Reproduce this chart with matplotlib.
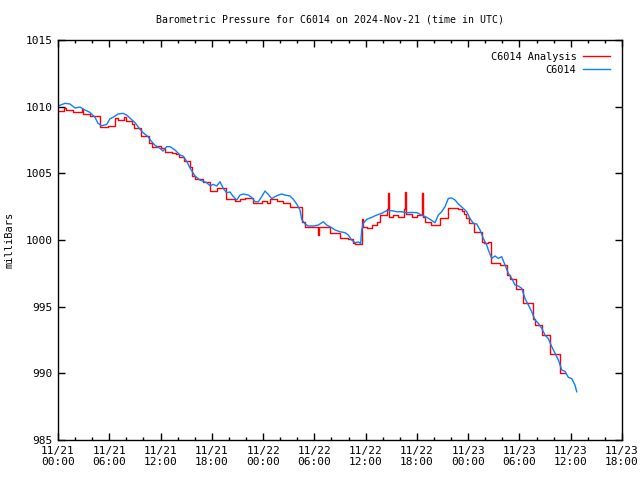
import numpy as np
import matplotlib
matplotlib.use("Agg")
import matplotlib.pyplot as plt
from matplotlib import ticker

# ======== data: hours since 2024-11-21 00:00 UTC, pressure in mb ========#
obs_hr = [0.00, 0.82, 1.40, 1.99, 2.57, 3.16, 3.74, 4.33, 4.68, 5.11,
          5.70, 6.09, 6.44, 7.02, 7.61, 8.04, 8.54, 9.01, 9.60, 9.95,
          10.53, 10.97, 11.35, 11.94, 12.29, 12.72, 13.11, 13.69, 14.28, 14.63,
          15.06, 15.45, 16.03, 16.62, 17.40, 17.79, 18.18, 18.57, 18.96, 19.35,
          19.74, 20.13, 20.52, 20.91, 21.30, 21.69, 22.27, 22.66, 23.05, 23.44,
          23.83, 24.22, 24.61, 25.01, 25.39, 25.78, 26.18, 26.57, 27.15, 27.54,
          27.93, 28.32, 28.52, 28.91, 29.29, 29.88, 30.46, 31.05, 31.44, 31.83,
          32.42, 33.00, 33.59, 33.97, 34.37, 34.76, 35.14, 35.42, 35.54, 35.73,
          36.13, 36.71, 37.30, 37.88, 38.47, 39.05, 39.64, 40.22, 40.81, 41.39,
          41.98, 42.56, 43.15, 43.53, 44.12, 44.50, 44.90, 45.29, 45.68, 46.07,
          46.46, 46.85, 47.43, 47.83, 48.21, 48.60, 49.00, 49.39, 49.77, 50.17,
          50.36, 50.75, 51.14, 51.53, 51.92, 52.31, 52.70, 53.10, 53.48, 53.87,
          54.27, 54.65, 55.04, 55.44, 55.82, 56.21, 56.61, 56.99, 57.38, 57.78,
          58.16, 58.55, 58.95, 59.33, 59.72, 60.12, 60.50, 60.70]
obs_mb = [1010.05, 1010.25, 1010.2, 1009.9, 1009.97, 1009.75, 1009.57, 1009.2, 1008.75, 1008.57,
          1008.67, 1009.1, 1009.2, 1009.45, 1009.5, 1009.37, 1009.07, 1008.8, 1008.3, 1008.05,
          1007.75, 1007.37, 1007.1, 1006.87, 1006.67, 1007.0, 1007.0, 1006.75, 1006.37, 1006.3,
          1005.9, 1005.4, 1004.8, 1004.5, 1004.3, 1004.07, 1004.17, 1004.05, 1004.37, 1003.85,
          1003.55, 1003.6, 1003.25, 1003.0, 1003.37, 1003.45, 1003.37, 1003.2, 1002.87, 1002.87,
          1003.25, 1003.67, 1003.42, 1003.1, 1003.25, 1003.37, 1003.45, 1003.37, 1003.3, 1003.05,
          1002.7, 1002.25, 1001.55, 1001.2, 1001.05, 1001.05, 1001.12, 1001.37, 1001.12, 1001.0,
          1000.75, 1000.62, 1000.55, 1000.37, 1000.0, 999.8, 999.85, 999.75, 1000.75, 1001.25,
          1001.55, 1001.7, 1001.87, 1002.0, 1002.2, 1002.2, 1002.12, 1002.12, 1002.05, 1002.07,
          1002.05, 1001.87, 1001.7, 1001.55, 1001.3, 1001.87, 1002.12, 1002.5, 1003.12, 1003.15,
          1003.0, 1002.7, 1002.37, 1002.12, 1001.62, 1001.25, 1001.2, 1000.75, 1000.12, 999.62,
          999.25, 998.62, 998.8, 998.62, 998.75, 998.12, 997.5, 997.12, 996.62, 996.55,
          996.37, 995.62, 995.12, 994.62, 994.0, 993.75, 993.37, 992.87, 992.6, 992.0,
          991.5, 991.0, 990.25, 990.15, 989.7, 989.6, 989.12, 988.62]

ana_hr = [0.00, 0.76, 0.94, 1.76, 2.81, 2.98, 3.74, 4.92, 5.85, 6.67,
          7.02, 7.78, 7.96, 8.66, 8.95, 9.71, 10.65, 11.00, 11.59, 12.05,
          12.52, 13.34, 13.81, 14.16, 14.75, 15.45, 15.68, 16.03, 16.97, 17.79,
          18.57, 19.66, 20.71, 21.30, 21.88, 22.86, 23.84, 24.42, 24.81, 25.59,
          26.37, 27.15, 27.74, 28.52, 28.91, 29.49, 30.43, 30.54, 31.83, 33.00,
          33.97, 34.49, 34.76, 35.54, 35.66, 36.13, 36.71, 37.30, 37.68, 38.47,
          38.65, 38.73, 39.24, 39.82, 40.49, 40.57, 40.73, 41.39, 42.05, 42.56,
          42.68, 42.95, 43.65, 44.70, 45.68, 46.85, 47.24, 47.51, 47.75, 48.10,
          48.68, 49.58, 49.85, 50.36, 50.64, 51.73, 52.51, 52.90, 53.60, 54.45,
          55.55, 55.82, 56.61, 57.58, 58.75, 59.33]
ana_mb = [1009.65, 1009.9, 1009.75, 1009.62, 1009.8, 1009.45, 1009.3, 1008.45, 1008.55, 1009.15,
          1009.0, 1009.25, 1008.95, 1008.7, 1008.43, 1007.8, 1007.3, 1007.0, 1007.05, 1006.9,
          1006.6, 1006.55, 1006.45, 1006.2, 1005.9, 1005.5, 1004.8, 1004.55, 1004.35, 1003.7,
          1003.87, 1003.1, 1002.95, 1003.05, 1003.17, 1002.75, 1002.95, 1002.75, 1003.1, 1002.95,
          1002.75, 1002.5, 1002.45, 1001.37, 1001.0, 1000.95, 1000.4, 1000.95, 1000.55, 1000.12,
          1000.05, 999.75, 999.67, 1001.6, 1001.0, 1000.87, 1001.12, 1001.37, 1001.87, 1002.3,
          1003.5, 1001.7, 1001.87, 1001.7, 1002.3, 1003.63, 1001.92, 1001.7, 1001.87, 1003.55,
          1001.75, 1001.37, 1001.12, 1001.67, 1002.42, 1002.3, 1002.2, 1001.95, 1001.62, 1001.3,
          1000.62, 999.87, 999.8, 999.87, 998.25, 998.12, 997.37, 997.05, 996.3, 995.25,
          994.05, 993.62, 992.87, 991.45, 990.05, 990.05]

xtick_hr = [0, 6, 12, 18, 24, 30, 36, 42, 48, 54, 60, 66]
xtick_lab = ["11/21\n00:00", "11/21\n06:00", "11/21\n12:00", "11/21\n18:00",
             "11/22\n00:00", "11/22\n06:00", "11/22\n12:00", "11/22\n18:00",
             "11/23\n00:00", "11/23\n06:00", "11/23\n12:00", "11/23\n18:00"]
ytick_mb = [985, 990, 995, 1000, 1005, 1010, 1015]

# ======== plot ========#
plt.rcParams['font.family'] = 'DejaVu Sans Mono'
plt.rcParams['font.size'] = 8

fig = plt.figure(figsize=(6.4, 4.8), dpi=100)
ax = fig.add_axes([58/640, 40/480, 564/640, 400/480])

ax.plot(ana_hr, ana_mb, color='#ff0000', lw=1.0, drawstyle='steps-post', label='C6014 Analysis')
ax.plot(obs_hr, obs_mb, color='#0a80ff', lw=1.0, label='C6014')

ax.set_xlim(0, 66)
ax.set_ylim(985, 1015)
ax.set_xticks(xtick_hr)
ax.set_xticklabels(xtick_lab)
ax.xaxis.set_minor_locator(ticker.MultipleLocator(2))
ax.set_yticks(ytick_mb)
ax.tick_params(which='major', direction='in', length=5, width=1, top=True, right=True, pad=4)
ax.tick_params(which='minor', direction='in', length=2.5, width=1, top=True, right=True)
for s in ax.spines.values():
    s.set_linewidth(1)

ax.set_ylabel('milliBars', fontsize=7.5, labelpad=8)
fig.text(330/640, 1 - 20/480, 'Barometric Pressure for C6014 on 2024-Nov-21 (time in UTC)',
         fontsize=7.1, ha='center', va='center')

leg = ax.legend(loc='upper right', frameon=False, markerfirst=False, fontsize=7.4,
                handlelength=2.6, borderaxespad=0.75, labelspacing=0.3, handletextpad=0.7)

fig.savefig('out.png', dpi=100)
